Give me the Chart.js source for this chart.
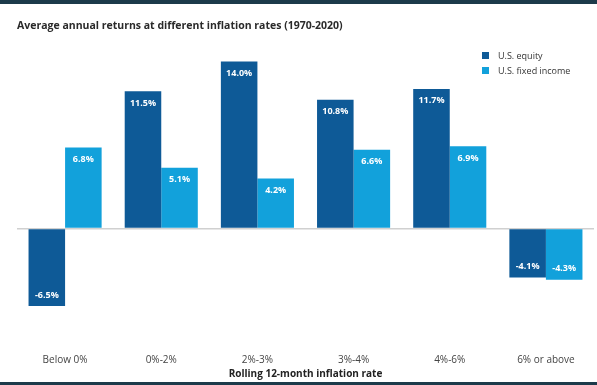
<!DOCTYPE html>
<html>
<head>
<meta charset="utf-8">
<script src="https://cdn.jsdelivr.net/npm/chart.js@4.4.0/dist/chart.umd.min.js"></script>
<style>
    body { margin: 0; background: #fff; font-family: "Open Sans", Lato, sans-serif; }
    #wrap { position: relative; width: 597px; height: 385px; overflow: hidden; }
    .frame { position: absolute; left: 0; width: 597px; background: #1c3a4a; }
    #legend { position: absolute; left: 482px; top: 48px; font-size: 9px; color: #333; }
    #legend div { display: flex; align-items: center; height: 15px; }
    #legend span.box { display: inline-block; width: 7px; height: 7px; margin-right: 9px; }
</style>
</head>
<body>
<div id="wrap">
    <canvas id="returnsChart" width="597" height="385"></canvas>
    <div class="frame" style="top:0;height:4px"></div>
    <div class="frame" style="top:382px;height:3px"></div>
    <div id="legend"></div>
</div>
<script>
// --- Data ---
const inflationBuckets = ['Below 0%', '0%-2%', '2%-3%', '3%-4%', '4%-6%', '6% or above'];
const equityReturns = [-6.5, 11.5, 14.0, 10.8, 11.7, -4.1];
const fixedIncomeReturns = [6.8, 5.1, 4.2, 6.6, 6.9, -4.3];
const seriesNames = ['U.S. equity', 'U.S. fixed income'];
const seriesColors = ['#0e5a97', '#12a1db'];

// Draws the white value labels inside each bar
const barValueLabels = {
    id: 'barValueLabels',
    afterDatasetsDraw(chart) {
        const ctx = chart.ctx;
        ctx.save();
        ctx.font = 'bold 9px "Open Sans", sans-serif';
        ctx.fillStyle = '#fff';
        ctx.textAlign = 'center';
        ctx.textBaseline = 'middle';
        chart.data.datasets.forEach((ds, i) => {
            chart.getDatasetMeta(i).data.forEach((bar, j) => {
                const v = ds.data[j];
                const y = v >= 0 ? bar.y + 12 : bar.y - 11;
                ctx.fillText(v.toFixed(1) + '%', bar.x, y);
            });
        });
        ctx.restore();
    }
};

const chart = new Chart(document.getElementById('returnsChart'), {
    type: 'bar',
    data: {
        labels: inflationBuckets,
        datasets: [
            { label: seriesNames[0], data: equityReturns, backgroundColor: seriesColors[0] },
            { label: seriesNames[1], data: fixedIncomeReturns, backgroundColor: seriesColors[1] }
        ]
    },
    options: {
        responsive: false,
        animation: false,
        layout: { padding: { left: 17, right: 3, top: 0, bottom: 5 } },
        datasets: { bar: { barPercentage: 1, categoryPercentage: 0.76 } },
        scales: {
            x: {
                grid: { display: false },
                border: { display: false },
                // tick padding is counted twice in the axis height, so fix the height here
                afterFit: scale => { scale.height = 56; },
                ticks: {
                    color: '#444',
                    font: { family: 'Open Sans', size: 10 },
                    padding: 22,
                    maxRotation: 0,
                    minRotation: 0
                },
                title: {
                    display: true,
                    text: 'Rolling 12-month inflation rate',
                    color: '#222',
                    font: { family: 'Open Sans', size: 10, weight: 'bold' },
                    padding: { top: 0, bottom: 0 }
                }
            },
            y: {
                min: -8,
                max: 16,
                border: { display: false },
                ticks: { display: false, stepSize: 4 },
                grid: {
                    drawTicks: false,
                    lineWidth: 1.5,
                    color: c => c.tick.value === 0 ? '#d0d0d0' : 'transparent'
                }
            }
        },
        plugins: {
            legend: { display: false },
            tooltip: { enabled: false },
            title: {
                display: true,
                text: 'Average annual returns at different inflation rates (1970-2020)',
                align: 'start',
                color: '#2a2a2a',
                font: { family: 'Open Sans', size: 10.5, weight: 'bold' },
                padding: { top: 20, bottom: 5 }
            }
        }
    },
    plugins: [barValueLabels]
});

// HTML legend built from the datasets
const legendBox = document.getElementById('legend');
chart.data.datasets.forEach(ds => {
    const row = document.createElement('div');
    row.innerHTML = `<span class="box" style="background:${ds.backgroundColor}"></span>${ds.label}`;
    legendBox.appendChild(row);
});
</script>
</body>
</html>
